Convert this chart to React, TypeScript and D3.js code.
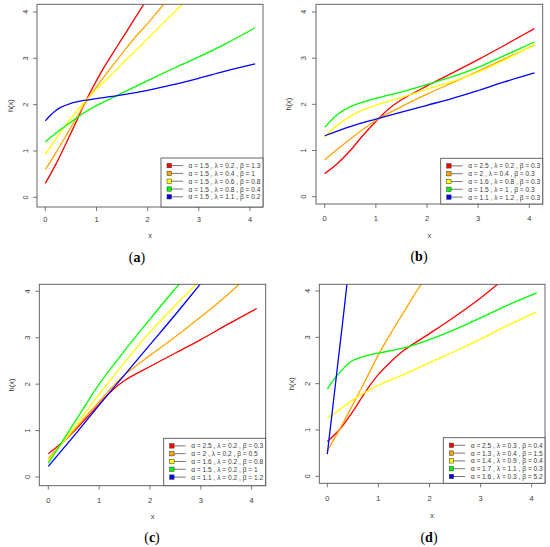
import React from 'react';
import * as d3 from 'd3';

type Pt = [number, number];

const seriesColors = ['#FF0000', '#FFA500', '#FFFF00', '#00FF00', '#0000FF'];
const xTicks = [0, 1, 2, 3, 4];
const yTicks = [0, 1, 2, 3, 4];

// (a)
const alphaA = ['1.5', '1.5', '1.5', '1.5', '1.5'];
const lambdaA = ['0.2', '0.4', '0.6', '0.8', '1.1'];
const betaA = ['1.3', '1', '0.8', '0.4', '0.2'];
const curvesA: Pt[][] = [
  [[0, 0.3], [0.2, 0.7], [0.4, 1.15], [0.6, 1.62], [0.8, 2.1], [1.0, 2.52], [1.2, 2.9], [1.4, 3.25], [1.6, 3.6], [1.8, 3.95], [2.0, 4.3]],
  [[0, 0.6], [0.2, 0.95], [0.4, 1.32], [0.6, 1.7], [0.8, 2.07], [1.0, 2.38], [1.25, 2.75], [1.5, 3.1], [1.75, 3.45], [2.0, 3.75], [2.25, 4.08], [2.5, 4.4]],
  [[0, 0.92], [0.2, 1.25], [0.4, 1.56], [0.6, 1.84], [0.8, 2.1], [1.0, 2.33], [1.25, 2.6], [1.5, 2.88], [1.75, 3.15], [2.0, 3.42], [2.25, 3.7], [2.5, 3.97], [2.75, 4.25]],
  [[0, 1.2], [0.25, 1.42], [0.5, 1.62], [0.75, 1.82], [1.0, 1.98], [1.5, 2.25], [2.0, 2.52], [2.5, 2.78], [3.0, 3.03], [3.5, 3.3], [4.1, 3.66]],
  [[0, 1.65], [0.1, 1.77], [0.2, 1.87], [0.3, 1.94], [0.5, 2.03], [0.75, 2.09], [1.0, 2.13], [1.5, 2.21], [2.0, 2.31], [2.5, 2.43], [3.0, 2.57], [3.5, 2.72], [4.1, 2.88]],
];

// (b)
const alphaB = ['2.5', '2', '1.6', '1.5', '1.1'];
const lambdaB = ['0.2', '0.4', '0.8', '1', '1.2'];
const betaB = ['0.3', '0.3', '0.3', '0.3', '0.3'];
const curvesB: Pt[][] = [
  [[0, 0.5], [0.25, 0.72], [0.5, 1.0], [0.75, 1.33], [1.0, 1.63], [1.25, 1.9], [1.5, 2.1], [2.0, 2.4], [2.5, 2.68], [3.0, 2.97], [3.5, 3.27], [4.1, 3.64]],
  [[0, 0.8], [0.5, 1.25], [1.0, 1.65], [1.5, 1.95], [2.0, 2.22], [2.5, 2.47], [3.0, 2.72], [3.5, 2.98], [4.1, 3.28]],
  [[0, 1.3], [0.25, 1.55], [0.5, 1.74], [0.75, 1.88], [1.0, 1.98], [1.5, 2.15], [2.0, 2.33], [2.5, 2.5], [3.0, 2.7], [3.5, 2.95], [4.1, 3.3]],
  [[0, 1.5], [0.25, 1.78], [0.5, 1.95], [0.75, 2.05], [1.0, 2.13], [1.5, 2.27], [2.0, 2.43], [2.5, 2.6], [3.0, 2.8], [3.5, 3.05], [4.1, 3.35]],
  [[0, 1.32], [0.5, 1.52], [1.0, 1.68], [1.5, 1.83], [2.0, 1.98], [2.5, 2.13], [3.0, 2.3], [3.5, 2.48], [4.1, 2.68]],
];

// (c)
const alphaC = ['2.5', '2', '1.6', '1.5', '1.1'];
const lambdaC = ['0.2', '0.2', '0.2', '0.2', '0.2'];
const betaC = ['0.3', '0.5', '0.8', '1', '1.2'];
const curvesC: Pt[][] = [
  [[0, 0.5], [0.25, 0.72], [0.5, 0.98], [0.75, 1.27], [1.0, 1.57], [1.25, 1.86], [1.5, 2.08], [2.0, 2.38], [2.5, 2.67], [3.0, 2.96], [3.5, 3.27], [4.1, 3.63]],
  [[0, 0.4], [0.25, 0.7], [0.5, 1.0], [0.75, 1.32], [1.0, 1.62], [1.25, 1.93], [1.5, 2.2], [2.0, 2.62], [2.5, 3.02], [3.0, 3.45], [3.5, 3.9], [3.75, 4.15], [3.9, 4.3]],
  [[0, 0.35], [0.25, 0.7], [0.5, 1.05], [0.75, 1.42], [1.0, 1.78], [1.5, 2.47], [2.0, 3.12], [2.5, 3.7], [3.0, 4.25]],
  [[0, 0.3], [0.25, 0.72], [0.5, 1.15], [0.75, 1.58], [1.0, 2.0], [1.5, 2.72], [2.0, 3.4], [2.5, 4.06], [2.7, 4.3]],
  [[0, 0.23], [0.5, 0.88], [1.0, 1.55], [1.5, 2.2], [2.0, 2.85], [2.5, 3.5], [3.0, 4.17], [3.1, 4.3]],
];

// (d)
const alphaD = ['2.5', '1.3', '1.4', '1.7', '1.6'];
const lambdaD = ['0.3', '0.4', '0.9', '1.1', '0.3'];
const betaD = ['0.4', '1.5', '0.4', '0.3', '5.2'];
const curvesD: Pt[][] = [
  [[0, 0.75], [0.25, 1.02], [0.5, 1.4], [0.75, 1.83], [1.0, 2.2], [1.25, 2.48], [1.5, 2.72], [2.0, 3.08], [2.5, 3.45], [3.0, 3.85], [3.5, 4.3]],
  [[0, 0.55], [0.25, 1.03], [0.5, 1.55], [0.75, 2.08], [1.0, 2.62], [1.25, 3.1], [1.5, 3.55], [1.75, 4.0], [2.0, 4.4]],
  [[0, 1.25], [0.25, 1.45], [0.5, 1.65], [0.75, 1.82], [1.0, 1.97], [1.5, 2.2], [2.0, 2.45], [2.5, 2.7], [3.0, 2.96], [3.5, 3.24], [4.1, 3.55]],
  [[0, 1.88], [0.1, 2.05], [0.25, 2.25], [0.4, 2.42], [0.5, 2.5], [0.75, 2.6], [1.0, 2.66], [1.5, 2.77], [2.0, 2.95], [2.5, 3.17], [3.0, 3.42], [3.5, 3.68], [4.1, 3.96]],
  [[0, 0.48], [0.1, 1.42], [0.2, 2.38], [0.3, 3.32], [0.4, 4.3]],
];

interface PanelLayout {
  id: string;
  tag: string;
  box: [number, number, number, number]; // left, right, top, bottom
  xPx: [number, number]; // pixel of x=0, x=4
  yPx: [number, number]; // pixel of y=0, y=4
  xTickLabY: number;
  yTickLabX: number;
  xLabY: number;
  yLabX: number;
  tagX: number;
  tagY: number;
  legendX: number;
  legendTop: number;
}

const layouts: PanelLayout[] = [
  { id: 'a', tag: 'a', box: [37, 263, 4.3, 207], xPx: [45.3, 250], yPx: [197.3, 12], xTickLabY: 222, yTickLabX: 25, xLabY: 238, yLabX: 10, tagX: 137, tagY: 261.5, legendX: 161, legendTop: 158 },
  { id: 'b', tag: 'b', box: [316, 542.7, 4.3, 204], xPx: [324.7, 529.3], yPx: [196.7, 12], xTickLabY: 221, yTickLabX: 303.7, xLabY: 238, yLabX: 288.3, tagX: 419, tagY: 260.5, legendX: 440.7, legendTop: 158.3 },
  { id: 'c', tag: 'c', box: [39.3, 265.7, 284.3, 485.7], xPx: [48.3, 251.7], yPx: [477, 291.3], xTickLabY: 502.5, yTickLabX: 27, xLabY: 518.5, yLabX: 11.7, tagX: 152, tagY: 541.5, legendX: 163.7, legendTop: 438.3 },
  { id: 'd', tag: 'd', box: [319.3, 545, 284.3, 483.3], xPx: [327.3, 531.7], yPx: [476.3, 291], xTickLabY: 501, yTickLabX: 307, xLabY: 518, yLabX: 291, tagX: 429, tagY: 541.5, legendX: 443.3, legendTop: 437.7 },
];

const panelData = [
  { curves: curvesA, alpha: alphaA, lambda: lambdaA, beta: betaA },
  { curves: curvesB, alpha: alphaB, lambda: lambdaB, beta: betaB },
  { curves: curvesC, alpha: alphaC, lambda: lambdaC, beta: betaC },
  { curves: curvesD, alpha: alphaD, lambda: lambdaD, beta: betaD },
];

const axisColor = '#555';
const textColor = '#3a3a3a';
const font = 'Liberation Sans, Arial, sans-serif';

const Panel: React.FC<{ layout: PanelLayout; index: number }> = ({ layout, index }) => {
  const { curves, alpha, lambda, beta } = panelData[index];
  const [left, right, top, bottom] = layout.box;
  const x = d3.scaleLinear().domain([0, 4]).range(layout.xPx);
  const y = d3.scaleLinear().domain([0, 4]).range(layout.yPx);
  const line = d3.line<Pt>().x((d) => x(d[0])).y((d) => y(d[1])).curve(d3.curveCatmullRom.alpha(0.5));
  const clipId = `clip-${layout.id}`;
  const legW = right - layout.legendX;
  const legH = bottom - layout.legendTop;
  const rowY = (i: number) => layout.legendTop + 7.6 + i * 7.8;
  const midY = (top + bottom) / 2;

  return (
    <g>
      <defs>
        <clipPath id={clipId}>
          <rect x={left} y={top} width={right - left} height={bottom - top} />
        </clipPath>
      </defs>
      <g clipPath={`url(#${clipId})`}>
        {curves.map((pts, i) => (
          <path key={i} d={line(pts) ?? ''} fill="none" stroke={seriesColors[i]} strokeWidth={1.3} />
        ))}
      </g>
      <rect x={left} y={top} width={right - left} height={bottom - top} fill="none" stroke={axisColor} strokeWidth={0.9} />
      {xTicks.map((t) => (
        <g key={`x${t}`}>
          <line x1={x(t)} x2={x(t)} y1={bottom} y2={bottom + 4} stroke={axisColor} strokeWidth={0.8} />
          <text x={x(t)} y={layout.xTickLabY} textAnchor="middle" fontSize={7.5} fontFamily={font} fill={textColor}>
            {t}
          </text>
        </g>
      ))}
      {yTicks.map((t) => (
        <g key={`y${t}`}>
          <line x1={left - 4} x2={left} y1={y(t)} y2={y(t)} stroke={axisColor} strokeWidth={0.8} />
          <text
            transform={`translate(${layout.yTickLabX},${y(t)}) rotate(-90)`}
            textAnchor="middle"
            dominantBaseline="central"
            fontSize={7.5}
            fontFamily={font}
            fill={textColor}
          >
            {t}
          </text>
        </g>
      ))}
      <text x={(left + right) / 2} y={layout.xLabY} textAnchor="middle" fontSize={7.5} fontFamily={font} fill={textColor}>
        x
      </text>
      <text
        transform={`translate(${layout.yLabX},${midY}) rotate(-90)`}
        textAnchor="middle"
        dominantBaseline="central"
        fontSize={7.5}
        fontFamily={font}
        fill={textColor}
      >
        h(x)
      </text>
      <rect x={layout.legendX} y={layout.legendTop} width={legW} height={legH} fill="#fff" stroke={axisColor} strokeWidth={0.9} />
      {alpha.map((a, i) => (
        <g key={`l${i}`}>
          <line x1={layout.legendX + 10} x2={layout.legendX + 22} y1={rowY(i)} y2={rowY(i)} stroke="#777" strokeWidth={1} />
          <rect x={layout.legendX + 6} y={rowY(i) - 2.2} width={4.4} height={4.4} fill={seriesColors[i]} stroke="#333" strokeWidth={0.5} />
          <text x={layout.legendX + 27.5} y={rowY(i)} dominantBaseline="central" fontSize={6.6} fontFamily={font} fill={textColor}>
            {`α = ${a} , λ = ${lambda[i]} , β = ${beta[i]}`}
          </text>
        </g>
      ))}
      <text x={layout.tagX} y={layout.tagY} textAnchor="middle" fontSize={14} fontFamily="Liberation Serif, Times New Roman, serif" fill="#000">
        (<tspan fontWeight="bold">{layout.tag}</tspan>)
      </text>
    </g>
  );
};

export default function App() {
  return (
    <svg width={550} height={547} style={{ display: 'block', position: 'absolute', left: 0, top: 0 }}>
      <rect width={550} height={547} fill="#fff" />
      {layouts.map((l, i) => (
        <Panel key={l.id} layout={l} index={i} />
      ))}
    </svg>
  );
}
